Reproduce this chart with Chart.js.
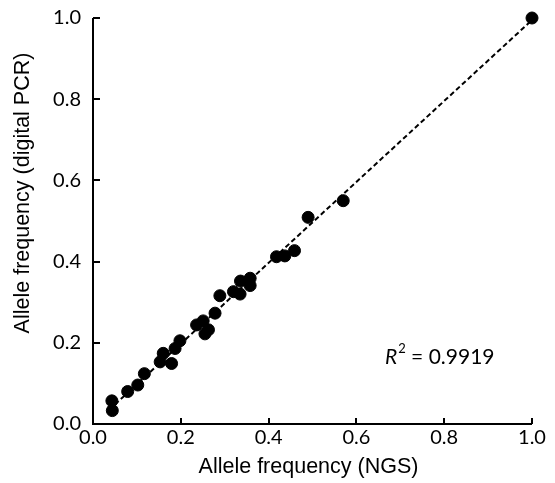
<!DOCTYPE html>
<html>
<head>
<meta charset="utf-8">
<script src="https://cdn.jsdelivr.net/npm/chart.js@4"></script>
<style>
  html, body { margin: 0; padding: 0; background: #fff; }
  #wrap { width: 555px; height: 483px; position: relative; }
</style>
</head>
<body>
<div id="wrap"><canvas id="c" width="555" height="483"></canvas></div>
<script>
// Data
const ngsValues = [0.043, 0.044, 0.079, 0.102, 0.117, 0.153, 0.160, 0.179, 0.187, 0.198,
                   0.236, 0.251, 0.255, 0.263, 0.278, 0.289, 0.320, 0.335, 0.336, 0.358,
                   0.358, 0.418, 0.437, 0.459, 0.490, 0.570, 1.000];
const dpcrValues = [0.057, 0.033, 0.080, 0.096, 0.124, 0.153, 0.174, 0.149, 0.186, 0.205,
                    0.244, 0.254, 0.222, 0.232, 0.273, 0.316, 0.326, 0.320, 0.352, 0.359,
                    0.341, 0.412, 0.414, 0.427, 0.509, 0.550, 1.000];
const trendX = [0.050, 1.000];
const trendY = [0.048, 0.995];
const tickValues = [0, 0.2, 0.4, 0.6, 0.8, 1.0];
const xTitle = 'Allele frequency (NGS)';
const yTitle = 'Allele frequency (digital PCR)';
const r2Label = '0.9919';

const tickFont = { family: 'Lato, "Open Sans", sans-serif', size: 20 };

const innerTicks = {
  id: 'innerTicks',
  afterDraw(chart) {
    const ctx = chart.ctx, x = chart.scales.x, y = chart.scales.y, a = chart.chartArea;
    ctx.save();
    ctx.strokeStyle = '#000';
    ctx.lineWidth = 2;
    ctx.beginPath();
    ctx.moveTo(a.left, a.top); ctx.lineTo(a.left, a.bottom); ctx.lineTo(a.right, a.bottom);
    tickValues.forEach(v => {
      const px = Math.round(x.getPixelForValue(v));
      ctx.moveTo(px, a.bottom); ctx.lineTo(px, a.bottom - 6);
      const py = Math.round(y.getPixelForValue(v));
      ctx.moveTo(a.left, py); ctx.lineTo(a.left + 7, py);
    });
    ctx.stroke();
    // axis titles
    ctx.fillStyle = '#000';
    ctx.font = '21.5px "Liberation Sans", Arial, sans-serif';
    ctx.textAlign = 'center';
    ctx.textBaseline = 'middle';
    ctx.fillText(xTitle, (a.left + a.right) / 2 - 4, 467);
    ctx.save();
    ctx.translate(23, 193);
    ctx.rotate(-Math.PI / 2);
    ctx.fillText(yTitle, 0, 0);
    ctx.restore();
    // R^2 annotation
    const tx = x.getPixelForValue(0.665), ty = y.getPixelForValue(0.165);
    ctx.textAlign = 'left';
    ctx.textBaseline = 'middle';
    ctx.font = 'italic 21px Lato, "Open Sans", sans-serif';
    ctx.fillText('R', tx, ty);
    let w = ctx.measureText('R').width;
    ctx.font = '13px Lato, "Open Sans", sans-serif';
    ctx.fillText('2', tx + w + 1, ty - 8);
    w += ctx.measureText('2').width + 1;
    ctx.font = '21px Lato, "Open Sans", sans-serif';
    ctx.fillText(' = ' + r2Label, tx + w, ty);
    ctx.restore();
  }
};

new Chart(document.getElementById('c'), {
  type: 'scatter',
  data: {
    datasets: [
      {
        type: 'line',
        data: trendX.map((v, i) => ({ x: v, y: trendY[i] })),
        borderColor: '#000',
        borderWidth: 2,
        borderDash: [5, 3],
        pointRadius: 0,
        fill: false,
        clip: false,
        order: 2
      },
      {
        data: ngsValues.map((v, i) => ({ x: v, y: dpcrValues[i] })),
        backgroundColor: '#000',
        borderColor: '#000',
        pointRadius: 6,
        pointHoverRadius: 6,
        clip: false,
        order: 1
      }
    ]
  },
  options: {
    responsive: false,
    animation: false,
    layout: { padding: { top: 18, right: 23, left: 0, bottom: 0 } },
    plugins: { legend: { display: false }, tooltip: { enabled: false } },
    scales: {
      x: {
        type: 'linear', min: 0, max: 1,
        grid: { display: false, drawTicks: false },
        border: { display: false },
        afterBuildTicks: s => { s.ticks = tickValues.map(v => ({ value: v })); },
        afterFit: s => { s.height = 59; s.paddingLeft = 0; s.paddingRight = 0; },
        ticks: { color: '#000', font: tickFont, padding: 2, maxRotation: 0,
                 callback: v => v.toFixed(1) }
      },
      y: {
        type: 'linear', min: 0, max: 1,
        grid: { display: false, drawTicks: false },
        border: { display: false },
        afterBuildTicks: s => { s.ticks = tickValues.map(v => ({ value: v })); },
        afterFit: s => { s.width = 93; s.paddingTop = 0; s.paddingBottom = 0; },
        ticks: { color: '#000', font: tickFont, padding: 12,
                 callback: v => v.toFixed(1) }
      }
    }
  },
  plugins: [innerTicks]
});
</script>
</body>
</html>
